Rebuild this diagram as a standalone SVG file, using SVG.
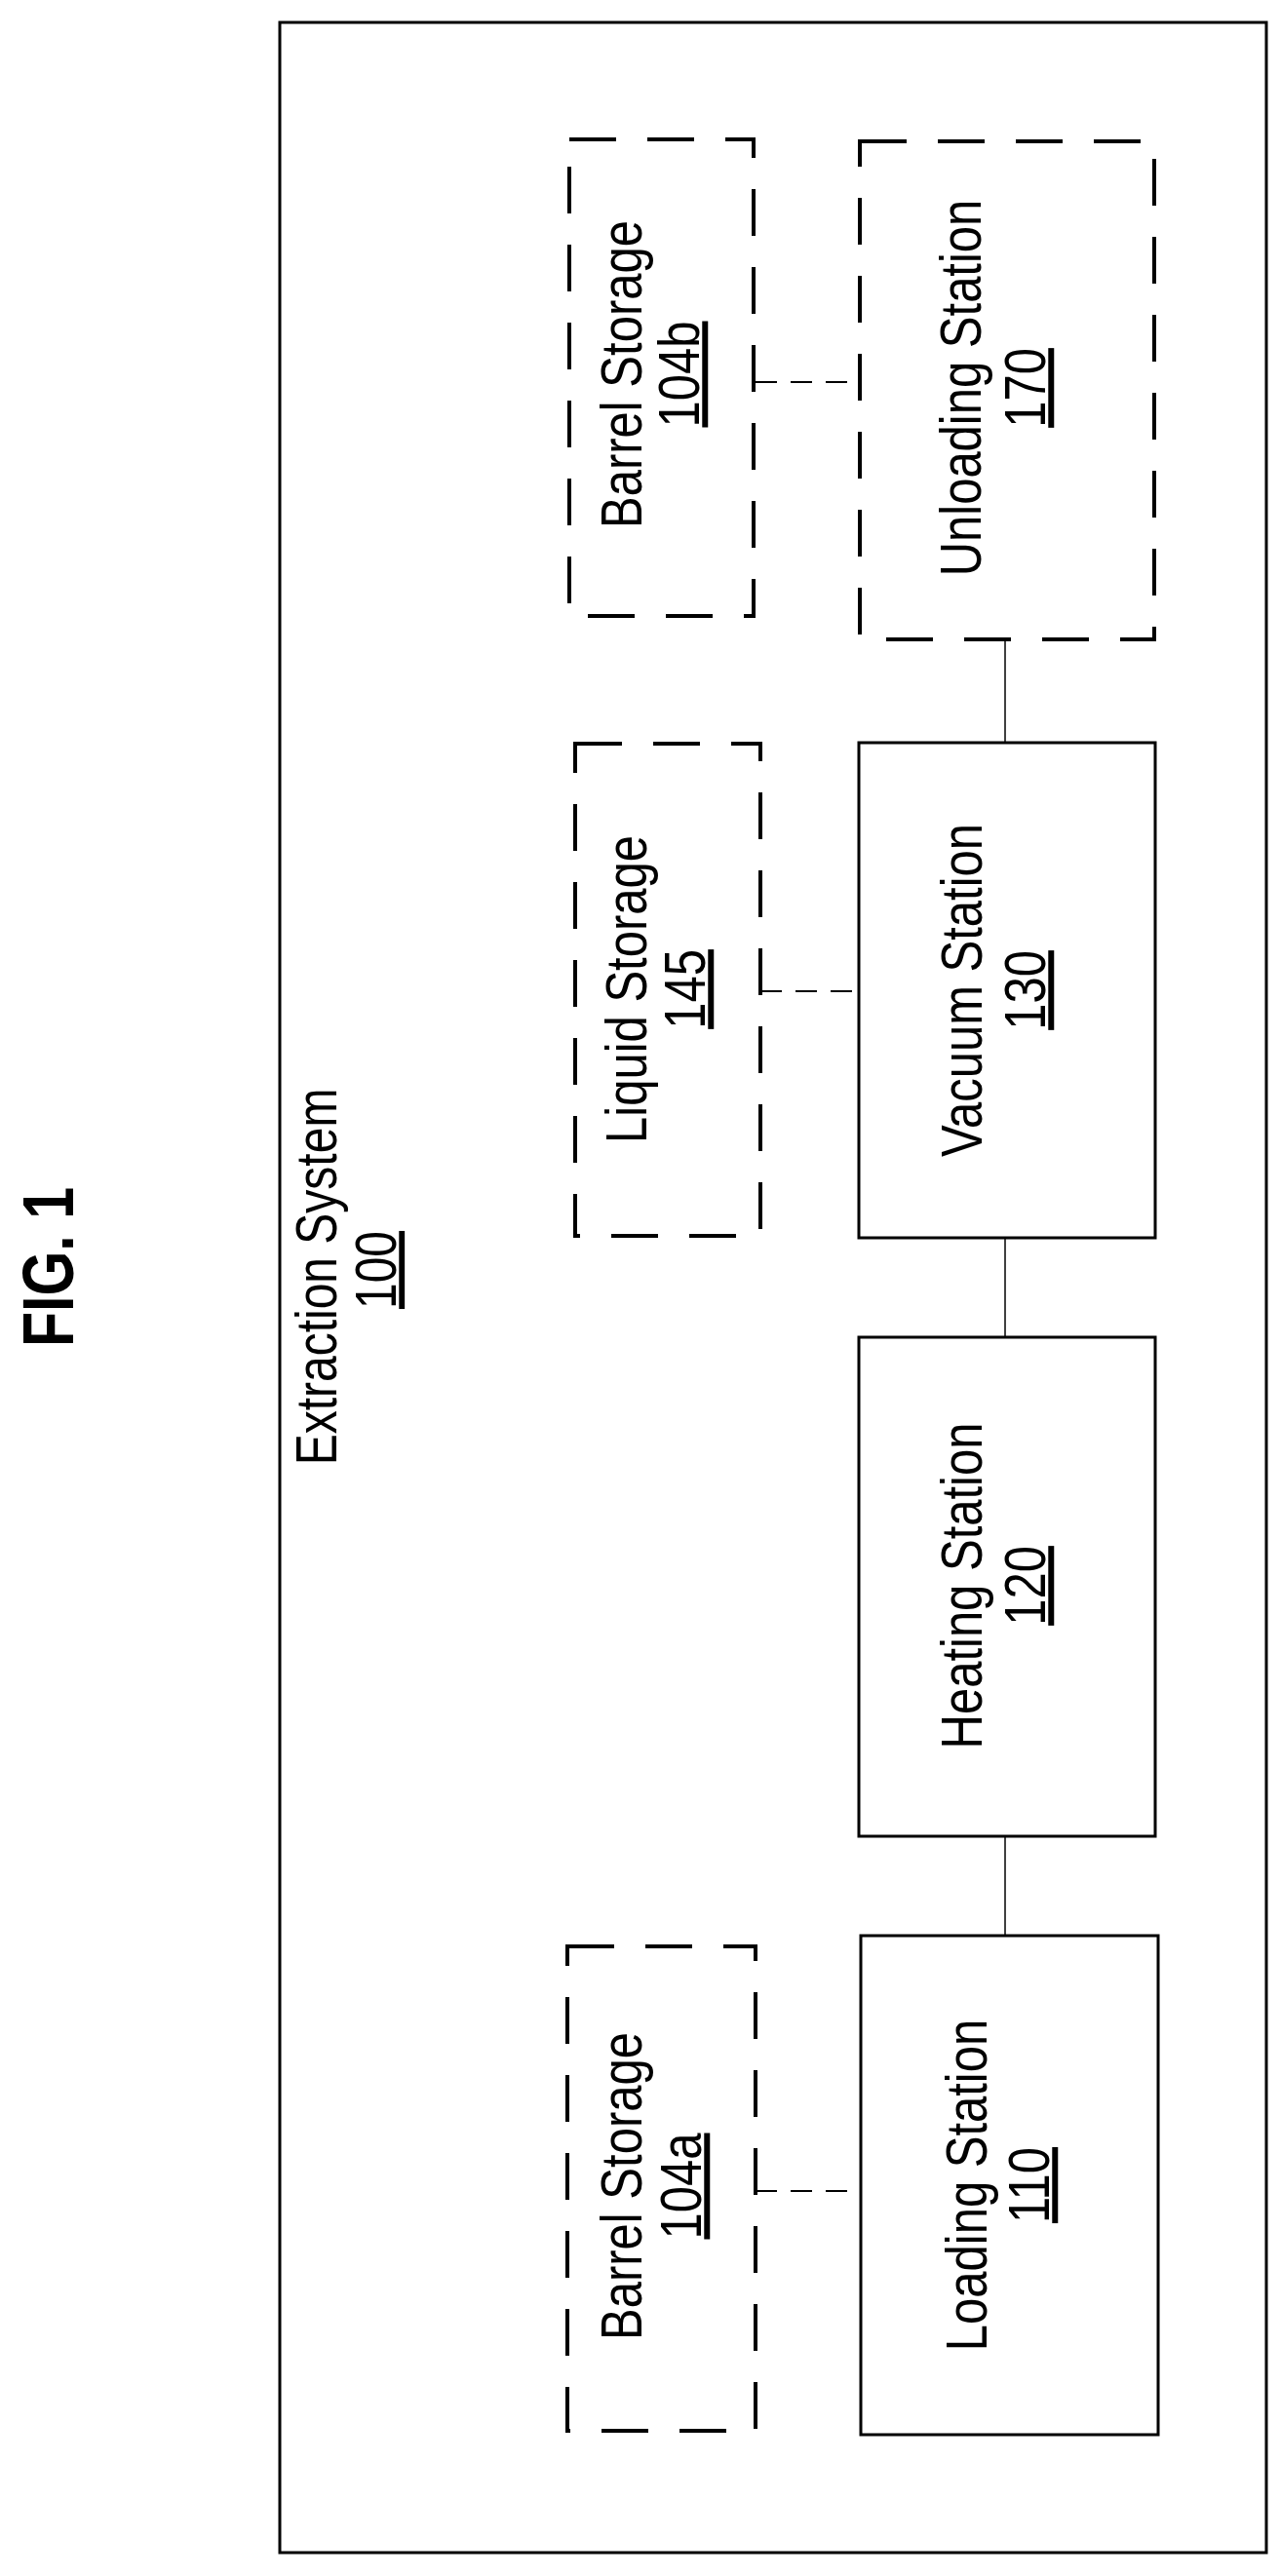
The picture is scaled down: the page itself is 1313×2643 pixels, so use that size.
<svg xmlns="http://www.w3.org/2000/svg" width="1313" height="2643" viewBox="0 0 1313 2643">
<style>
.box{fill:none;stroke:#000;stroke-width:3}
.dbox{fill:none;stroke:#000;stroke-width:4;stroke-dasharray:48 32}
.link{stroke:#000;stroke-width:1.5;fill:none}
.dlink{stroke:#000;stroke-width:2;fill:none;stroke-dasharray:22 14}
text{font-family:"Liberation Sans",Arial,sans-serif;font-size:49px;text-anchor:middle;fill:#000}
.u{text-decoration:underline}
</style>
<rect width="1313" height="2643" fill="#fff"/>
<text transform="translate(75,1300) rotate(-90) scale(1,1.25)" style="font-weight:bold;font-size:59px">FIG. 1</text>
<g id="system">
<rect class="box" x="287" y="23" width="1012" height="2596"/>
<text transform="translate(345,1310) rotate(-90) scale(1,1.22)" style="font-size:48px">Extraction System</text>
<text class="u" transform="translate(406,1303) rotate(-90) scale(1,1.22)" style="font-size:48px">100</text>
</g>
<g id="connectors">
<line class="link" x1="1031" y1="656" x2="1031" y2="762"/>
<line class="link" x1="1031" y1="1270" x2="1031" y2="1372"/>
<line class="link" x1="1031" y1="1884" x2="1031" y2="1986"/>
<line class="dlink" x1="775" y1="392" x2="882" y2="392"/>
<line class="dlink" x1="780" y1="1017" x2="881" y2="1017"/>
<line class="dlink" x1="775" y1="2248" x2="883" y2="2248"/>
</g>
<g id="barrel104b">
<rect class="dbox" x="584" y="143" width="189" height="489"/>
<text transform="translate(658,384) rotate(-90) scale(1,1.22)">Barrel Storage</text>
<text class="u" transform="translate(717,384) rotate(-90) scale(1,1.22)">104b</text>
</g>
<g id="unloading170">
<rect class="dbox" x="882" y="145" width="302" height="511"/>
<text transform="translate(1006,398) rotate(-90) scale(1,1.22)">Unloading Station</text>
<text class="u" transform="translate(1072,398) rotate(-90) scale(1,1.22)">170</text>
</g>
<g id="liquid145">
<rect class="dbox" x="590" y="763" width="190" height="505"/>
<text transform="translate(663,1015) rotate(-90) scale(1,1.22)">Liquid Storage</text>
<text class="u" transform="translate(723,1015) rotate(-90) scale(1,1.22)">145</text>
</g>
<g id="vacuum130">
<rect class="box" x="881" y="762" width="304" height="508"/>
<text transform="translate(1007,1016) rotate(-90) scale(1,1.22)">Vacuum Station</text>
<text class="u" transform="translate(1072,1016) rotate(-90) scale(1,1.22)">130</text>
</g>
<g id="heating120">
<rect class="box" x="881" y="1372" width="304" height="512"/>
<text transform="translate(1007,1627) rotate(-90) scale(1,1.22)">Heating Station</text>
<text class="u" transform="translate(1072,1627) rotate(-90) scale(1,1.22)">120</text>
</g>
<g id="loading110">
<rect class="box" x="883" y="1986" width="305" height="512"/>
<text transform="translate(1012,2242) rotate(-90) scale(1,1.22)">Loading Station</text>
<text class="u" transform="translate(1076,2242) rotate(-90) scale(1,1.22)">110</text>
</g>
<g id="barrel104a">
<rect class="dbox" x="582" y="1997" width="193" height="497"/>
<text transform="translate(658,2243) rotate(-90) scale(1,1.22)">Barrel Storage</text>
<text class="u" transform="translate(719,2243) rotate(-90) scale(1,1.22)">104a</text>
</g>
</svg>
